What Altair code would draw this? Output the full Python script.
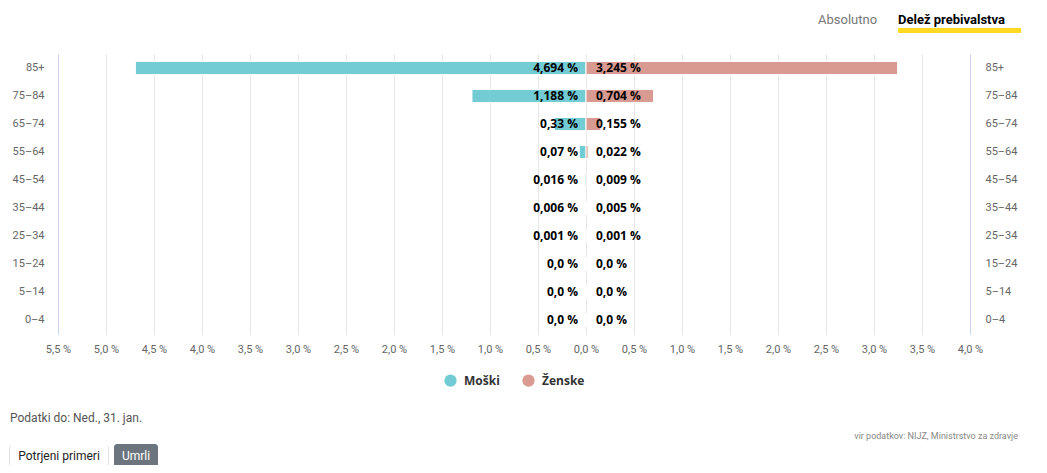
import altair as alt
import pandas as pd

ages = ["85+", "75–84", "65–74", "55–64", "45–54", "35–44", "25–34", "15–24", "5–14", "0–4"]
male = [4.694, 1.188, 0.33, 0.07, 0.016, 0.006, 0.001, 0.0, 0.0, 0.0]
female = [3.245, 0.704, 0.155, 0.022, 0.009, 0.005, 0.001, 0.0, 0.0, 0.0]
male_labels = ["4,694 %", "1,188 %", "0,33 %", "0,07 %", "0,016 %", "0,006 %", "0,001 %", "0,0 %", "0,0 %", "0,0 %"]
female_labels = ["3,245 %", "0,704 %", "0,155 %", "0,022 %", "0,009 %", "0,005 %", "0,001 %", "0,0 %", "0,0 %", "0,0 %"]
tick_values = [-5.5, -5.0, -4.5, -4.0, -3.5, -3.0, -2.5, -2.0, -1.5, -1.0, -0.5,
               0.0, 0.5, 1.0, 1.5, 2.0, 2.5, 3.0, 3.5, 4.0]
sexes = ["Moški", "Ženske"]
colors = ["#73cbd3", "#d99a91"]

rows = []
for a, m, ml in zip(ages, male, male_labels):
    rows.append({"age": a, "sex": "Moški", "value": -m, "label": ml})
for a, f, fl in zip(ages, female, female_labels):
    rows.append({"age": a, "sex": "Ženske", "value": f, "label": fl})
df = pd.DataFrame(rows)

W, H = 912, 280
FONT = "Roboto"
LBL_FONT = "Open Sans"

yscale = alt.Scale(domain=ages, paddingInner=0.53, paddingOuter=0.265)
xscale = alt.Scale(domain=[-5.5, 4.0], nice=False, zero=False)

label_expr = "replace(format(abs(datum.value), '.1f'), '.', ',') + ' %'"

x_axis = alt.Axis(values=tick_values, labelExpr=label_expr, grid=True,
                  gridColor="#e6e6e6", domain=False, ticks=False, labelFlush=False,
                  labelPadding=9, labelFont=FONT, labelFontSize=11,
                  labelColor="#666666")
y_left = alt.Axis(orient="left", domainColor="#ccd6eb", ticks=False,
                  labelPadding=14, labelFont=FONT, labelFontSize=11,
                  labelColor="#666666", zindex=1)
y_right = alt.Axis(orient="right", domainColor="#ccd6eb", ticks=False,
                   labelPadding=15, labelFont=FONT, labelFontSize=11,
                   labelColor="#666666", zindex=1)

base = alt.Chart(df)

bars = base.mark_bar(stroke="white", strokeWidth=1).encode(
    x=alt.X("value:Q", scale=xscale, title=None, axis=x_axis),
    y=alt.Y("age:N", scale=yscale, sort=ages, title=None, axis=y_left),
    color=alt.Color("sex:N", scale=alt.Scale(domain=sexes, range=colors), title=None,
                    legend=alt.Legend(orient="none", legendX=386, legendY=320,
                                      direction="horizontal", symbolType="circle",
                                      symbolSize=150, symbolStrokeWidth=0,
                                      labelFont=LBL_FONT, labelFontWeight="bold",
                                      labelFontSize=12, labelColor="#333333",
                                      labelOffset=7, columnPadding=22)),
)

male_text = base.transform_filter(alt.datum.sex == "Moški").mark_text(
    align="right", baseline="middle", dx=-8, fontWeight="bold", fontSize=12,
    font=LBL_FONT, color="#000000"
).encode(
    x=alt.datum(0, type="quantitative", scale=xscale, title=None, axis=x_axis),
    y=alt.Y("age:N", scale=yscale, sort=ages, title=None, axis=y_left),
    text="label:N",
)

female_text = base.transform_filter(alt.datum.sex == "Ženske").mark_text(
    align="left", baseline="middle", dx=10, fontWeight="bold", fontSize=12,
    font=LBL_FONT, color="#000000"
).encode(
    x=alt.datum(0, type="quantitative", scale=xscale, title=None, axis=x_axis),
    y=alt.Y("age:N", scale=yscale, sort=ages, title=None, axis=y_left),
    text="label:N",
)

main = alt.layer(bars, male_text, female_text)

right_axis = base.mark_text(opacity=0, text=" ").encode(
    y=alt.Y("age:N", scale=yscale, sort=ages, title=None, axis=y_right),
)

one = pd.DataFrame({"k": [1]})
deco = alt.Chart(one)

tab_abs = deco.mark_text(text="Absolutno", align="left", baseline="middle",
                         font=FONT, fontSize=13, color="#777777").encode(
    x=alt.value(760), y=alt.value(-34))
tab_rect = deco.mark_rect(color="#ffd923").encode(
    x=alt.value(840), x2=alt.value(963), y=alt.value(-26), y2=alt.value(-21))
tab_share = deco.mark_text(text="Delež prebivalstva", align="left", baseline="middle",
                           font=FONT, fontSize=13, fontWeight="bold", color="#000000").encode(
    x=alt.value(840), y=alt.value(-34))

footer1 = deco.mark_text(text="Podatki do: Ned., 31. jan.", align="left", baseline="middle",
                         font=FONT, fontSize=12, color="#555555").encode(
    x=alt.value(-48), y=alt.value(364))
footer2 = deco.mark_text(text="vir podatkov: NIJZ, Ministrstvo za zdravje", align="right",
                         baseline="middle", font=FONT, fontSize=9, color="#888888").encode(
    x=alt.value(960), y=alt.value(382))

btn1_shadow = deco.mark_rect(color="#e2e2e2", cornerRadius=4).encode(
    x=alt.value(-49), x2=alt.value(51), y=alt.value(390), y2=alt.value(414))
btn1 = deco.mark_rect(color="#ffffff", cornerRadius=3).encode(
    x=alt.value(-48), x2=alt.value(50), y=alt.value(390), y2=alt.value(412.5))
btn1_t = deco.mark_text(text="Potrjeni primeri", align="center", baseline="middle",
                        font=FONT, fontSize=12, color="#222222").encode(
    x=alt.value(1), y=alt.value(402))
btn2 = deco.mark_rect(color="#6c757d", cornerRadius=3).encode(
    x=alt.value(56), x2=alt.value(100), y=alt.value(390), y2=alt.value(413))
btn2_t = deco.mark_text(text="Umrli", align="center", baseline="middle",
                        font=FONT, fontSize=12, color="#ffffff").encode(
    x=alt.value(78), y=alt.value(402))

chart = alt.layer(
    main, right_axis,
    tab_abs, tab_rect, tab_share, footer1, footer2,
    btn1_shadow, btn1, btn1_t, btn2, btn2_t,
).resolve_axis(y="independent").properties(
    width=W, height=H,
    background="white",
    autosize=alt.AutoSizeParams(type="none"),
    padding={"left": 50, "top": 46, "right": 69, "bottom": 131},
).configure_view(strokeWidth=0, stroke=None)

chart.save("out.html", embed_options={"renderer": "svg", "actions": False})
